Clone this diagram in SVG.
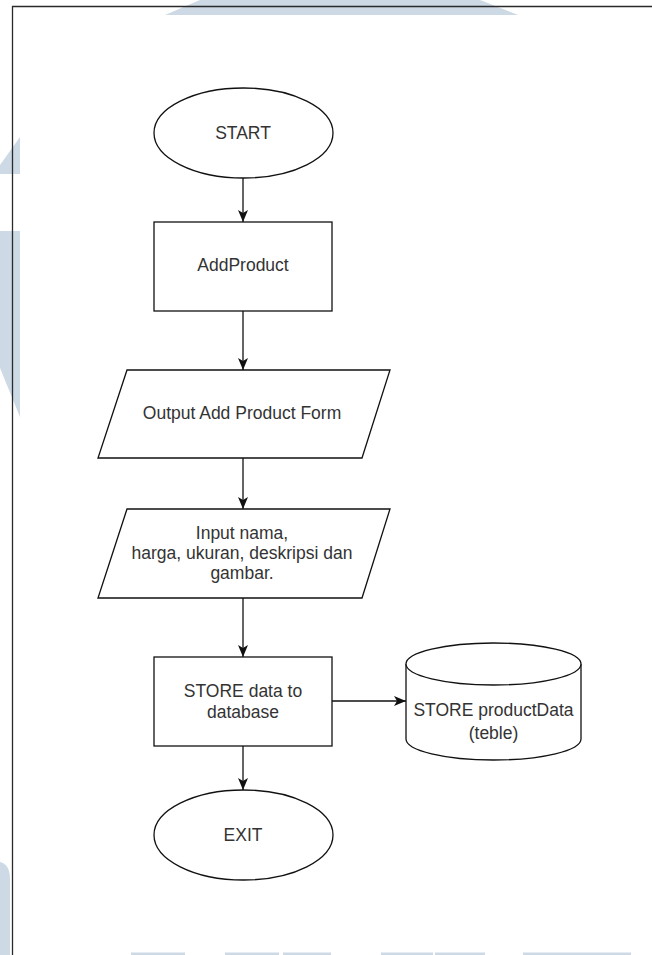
<svg xmlns="http://www.w3.org/2000/svg" width="652" height="955" viewBox="0 0 652 955">
  <style>
    .shape { fill: #ffffff; stroke: #111111; stroke-width: 1.3; }
    .edge { fill: none; stroke: #111111; stroke-width: 1.3; marker-end: url(#arrow); }
    .label { font-family: "Liberation Sans", Arial, sans-serif; font-size: 17.5px; fill: #333333; text-anchor: middle; }
    .wm { fill: #cdd9e4; }
    .frame { stroke: #2a2a2a; stroke-width: 1.3; fill: none; }
  </style>
  <defs>
    <marker id="arrow" markerUnits="userSpaceOnUse" markerWidth="12" markerHeight="10" refX="12" refY="5" orient="auto">
      <path d="M0,0 L12,5 L0,10 L3,5 Z" fill="#111111"/>
    </marker>
  </defs>

  <rect x="0" y="0" width="652" height="955" fill="#ffffff"/>

  <!-- background band shapes -->
  <g id="backdrop">
    <polygon class="wm" points="165,15 200,0 480,0 518,15"/>
    <polygon class="wm" points="0,165 20,137 20,174 0,174"/>
    <polygon class="wm" points="0,231 20,231 20,417 0,368"/>
    <path class="wm" d="M0,862 Q10,864 10,880 L10,955 L0,955 Z"/>
    <rect class="wm" x="131" y="952.5" width="54" height="2.5"/>
    <rect class="wm" x="225" y="952.5" width="54" height="2.5"/>
    <rect class="wm" x="283" y="952.5" width="48" height="2.5"/>
    <rect class="wm" x="381" y="952.5" width="52" height="2.5"/>
    <rect class="wm" x="435" y="952.5" width="50" height="2.5"/>
    <rect class="wm" x="523" y="952.5" width="108" height="2.5"/>
  </g>

  <!-- page frame -->
  <path class="frame" d="M12.5,955 L12.5,6.5 L652,6.5"/>

  <!-- connectors -->
  <g id="connectors">
    <line class="edge" x1="243" y1="178" x2="243" y2="222"/>
    <line class="edge" x1="243" y1="311" x2="243" y2="370"/>
    <line class="edge" x1="243" y1="458" x2="243" y2="509"/>
    <line class="edge" x1="243" y1="598" x2="243" y2="657"/>
    <line class="edge" x1="332" y1="701" x2="406" y2="701"/>
    <line class="edge" x1="243" y1="746" x2="243" y2="790"/>
  </g>

  <g id="start">
    <ellipse class="shape" cx="243.5" cy="133" rx="89.5" ry="45"/>
    <text class="label" x="243" y="139">START</text>
  </g>

  <g id="add-product">
    <rect class="shape" x="154" y="222" width="178" height="89"/>
    <text class="label" x="243" y="271">AddProduct</text>
  </g>

  <g id="output-form">
    <polygon class="shape" points="127,370 390,370 362,458 98,458"/>
    <text class="label" x="242" y="419">Output Add Product Form</text>
  </g>

  <g id="input-data">
    <polygon class="shape" points="127,509 390,509 362,598 98,598"/>
    <text class="label" x="242" y="539">Input nama,</text>
    <text class="label" x="242" y="559">harga, ukuran, deskripsi dan</text>
    <text class="label" x="242" y="579">gambar.</text>
  </g>

  <g id="store-data">
    <rect class="shape" x="154" y="657" width="178" height="89"/>
    <text class="label" x="243" y="697">STORE data to</text>
    <text class="label" x="243" y="718">database</text>
  </g>

  <g id="product-table">
    <path class="shape" d="M406,664 A87.5,21 0 0 1 581,664 L581,739 A87.5,21 0 0 1 406,739 Z"/>
    <path class="shape" fill="none" d="M406,664 A87.5,21 0 0 0 581,664"/>
    <text class="label" x="493.5" y="716">STORE productData</text>
    <text class="label" x="493.5" y="739">(teble)</text>
  </g>

  <g id="exit">
    <ellipse class="shape" cx="243.5" cy="835" rx="89.5" ry="45"/>
    <text class="label" x="243" y="841">EXIT</text>
  </g>
</svg>
